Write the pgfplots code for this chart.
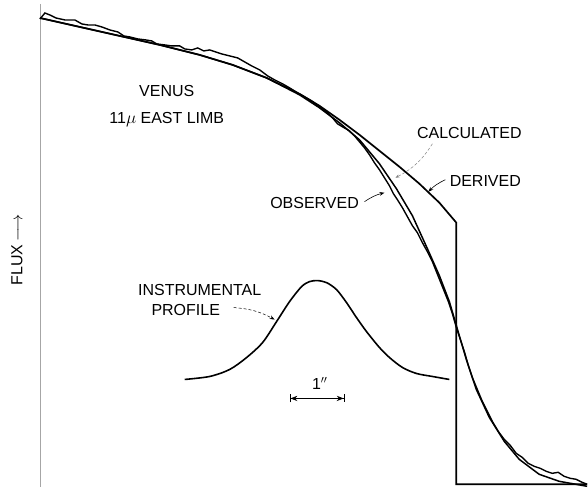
\documentclass[border=0pt]{standalone}
\usepackage{pgfplots}
\pgfplotsset{compat=1.18}
\usepackage{fontspec}
\setmainfont{Liberation Sans}
\usetikzlibrary{arrows.meta}
\begin{document}
\begin{tikzpicture}[lab/.style={font=\fontsize{16}{19}\selectfont, inner sep=0pt}]
\begin{axis}[
  scale only axis, width=588pt, height=490pt,
  xmin=0, xmax=588, ymin=0, ymax=490, y dir=reverse,
  axis line style={draw=none}, xtick=\empty, ytick=\empty,
  clip=false,
]
% y axis line
\addplot[gray!70, line width=0.6pt] coordinates {(40,4) (40,488)};
% DERIVED
\addplot[black, line width=1.7pt] coordinates {
(40,18) (80,27) (120,36) (160,45) (200,55) (233,65) (267,78) (300,94)
(320,106) (340,120) (360,135) (380,151) (400,167) (420,184) (440,203) (457,223)
(457,485) (588,485)};
% CALCULATED
\addplot[black, line width=1.5pt] coordinates {
(40,18) (80,27) (120,36) (160,45) (200,55) (233,65) (267,78) (300,95)
(320,108) (340,123) (360,140) (380,164) (397,189) (413,216) (428,249) (440,276)
(450,302) (457,326) (467,360) (477,390) (490,418) (505,442) (520,460) (540,475)
(560,482) (588,487)};
% OBSERVED
\addplot[black, line width=1.4pt] coordinates {
(40,19) (45,13) (50,15) (56,18) (65,20) (75,20) (82,24) (88,25) (95,25) (102,27)
(110,30) (118,32) (124,36) (130,37) (138,39) (146,40) (152,41) (157,44) (165,45)
(172,46) (180,46) (185,49) (192,50) (198,48) (204,51) (210,50) (216,52) (222,54)
(230,56) (238,58) (245,62) (252,66) (260,70) (268,76) (275,80) (283,84) (290,88)
(298,93) (305,97) (312,101) (320,107) (327,112) (333,118) (338,124) (343,127)
(350,131) (355,136) (360,142) (365,148) (370,155) (375,163) (380,170) (385,178)
(390,186) (394,194) (398,200) (403,208) (408,217) (413,226) (418,233) (423,243)
(428,252) (433,262) (437,272) (441,282) (445,292) (449,302) (453,314) (457,328)
(461,340) (465,352) (469,366) (473,378) (478,390) (483,402) (488,412) (493,422)
(499,432) (505,440) (511,446) (517,454) (523,458) (529,464) (535,467) (541,469)
(547,472) (553,474) (559,473) (565,477) (571,479) (577,480) (583,483) (588,485)};
% INSTRUMENTAL PROFILE
\addplot[black, line width=1.6pt, smooth] coordinates {
(185,380) (210,377) (230,370) (247,358) (263,343) (277,322) (290,302) (302,287)
(310,282) (318,281) (327,283) (337,290) (347,303) (357,318) (367,332) (380,348)
(390,358) (403,368) (417,374) (433,377) (450,380)};
% scale bar
\addplot[black, line width=0.8pt, {Bar[width=8pt]Stealth[length=7pt]}-{Stealth[length=7pt]Bar[width=8pt]}] coordinates {(290,399) (345,399)};
% labels
\node[lab] at (axis cs:167,91) {VENUS};
\node[lab] at (axis cs:167,120) {11$\mu$ EAST LIMB};
\node[lab] at (axis cs:470,133) {CALCULATED};
\node[lab] at (axis cs:486,181) {DERIVED};
\node[lab] at (axis cs:315,203) {OBSERVED};
\node[lab] at (axis cs:200,290) {INSTRUMENTAL};
\node[lab] at (axis cs:186,310) {PROFILE};
\node[lab] at (axis cs:317,384) {1\rlap{$^{\prime\prime}$}};
\node[lab, rotate=90] at (axis cs:17,250) {FLUX$\,\longrightarrow$};
% annotation arrows
\draw[gray, line width=0.5pt, densely dashed, -{Stealth[length=4pt]}] (axis cs:433,144) to[bend left=15] (axis cs:396,178);
\draw[black, line width=0.6pt, -{Stealth[length=5pt]}] (axis cs:446,180) to[bend right=10] (axis cs:429,192);
\draw[black, line width=0.6pt, -{Stealth[length=5pt]}] (axis cs:365,202) to[bend left=10] (axis cs:385,193);
\draw[black, line width=0.5pt, densely dashed, -{Stealth[length=5pt]}] (axis cs:234,308) to[bend left=12] (axis cs:275,320);
\end{axis}
\end{tikzpicture}
\end{document}
